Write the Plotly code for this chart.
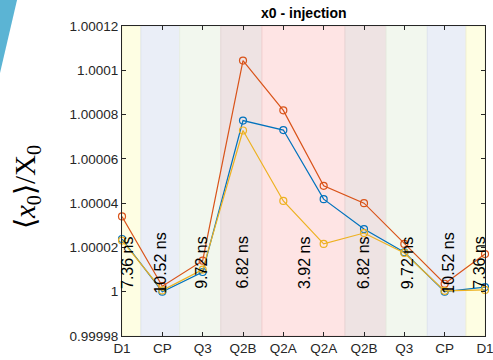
import plotly.graph_objects as go

# Lattice elements along the injection line (first and last are the D1 dipoles)
elements = ["D1", "CP", "Q3", "Q2B", "Q2A", "Q2A", "Q2B", "Q3", "CP", "D1"]
positions = list(range(1, len(elements) + 1))

# Normalised mean horizontal position <x0>/X0 at each element, three cases
series_blue = [1.0000238, 1.0000000, 1.0000089, 1.0000773, 1.0000730,
               1.0000418, 1.0000283, 1.0000178, 1.0000000, 1.0000021]
series_orange = [1.0000340, 1.0000025, 1.0000140, 1.0001044, 1.0000819,
                 1.0000478, 1.0000400, 1.0000216, 1.0000036, 1.0000170]
series_yellow = [1.0000231, 1.0000006, 1.0000100, 1.0000728, 1.0000410,
                 1.0000216, 1.0000265, 1.0000175, 1.0000004, 1.0000008]

# Transit times between elements
gap_labels = ["7.36 ns", "10.52 ns", "9.72 ns", "6.82 ns", "3.92 ns",
              "6.82 ns", "9.72 ns", "10.52 ns", "7.36 ns"]
gap_label_x = [1.15, 1.96, 2.98, 3.99, 5.54, 7.0, 8.10, 9.10, 9.87]
gap_label_y = 1.0000130

y_ticks = [0.99998, 1.0, 1.00002, 1.00004, 1.00006, 1.00008, 1.0001, 1.00012]
y_ticktext = ["0.99998", "1", "1.00002", "1.00004", "1.00006", "1.00008",
              "1.0001", "1.00012"]

# Shaded regions for each element type: (start, end, fill colour)
band_edges = [1.0, 1.47, 2.43, 3.45, 4.47, 6.53, 7.55, 8.57, 9.53, 10.0]
band_colors = ["#FEFEE3", "#EAEEF7", "#F2F7EE", "#EEE3E3", "#FEE4E4",
               "#EEE3E3", "#F2F7EE", "#EAEEF7", "#FEFEE3"]
band_line = ["#F2F2D2", "#E0E4EF", "#E8EFE3", "#E6D6D6", "#F4CFCF",
             "#E6D6D6", "#E8EFE3", "#E0E4EF", "#F2F2D2"]

W, H = 493, 360
M_L, M_R, M_T, M_B = 122, 8, 26, 24
PW, PH = W - M_L - M_R, H - M_T - M_B


def px(xp, yp):
    """Convert a page pixel position to paper coordinates."""
    return (xp - M_L) / PW, (H - M_B - yp) / PH


fig = go.Figure()

shapes = []
for i, col in enumerate(band_colors):
    shapes.append(dict(type="rect", xref="x", yref="paper",
                       x0=band_edges[i], x1=band_edges[i + 1], y0=0, y1=1,
                       fillcolor=col, line=dict(width=1, color=band_line[i]),
                       layer="below"))

# Decorative wedge in the upper-left corner
a = px(-5, -5)
b = px(18.2, -5)
c = px(-5, 94.5)
shapes.append(dict(type="path", xref="paper", yref="paper",
                   path=f"M {a[0]} {a[1]} L {b[0]} {b[1]} L {c[0]} {c[1]} Z",
                   fillcolor="#5BB4D4", line=dict(width=0), layer="above"))

for name, vals, col in [("blue", series_blue, "#0072BD"),
                        ("orange", series_orange, "#D95319"),
                        ("yellow", series_yellow, "#EDB120")]:
    fig.add_trace(go.Scatter(
        x=positions, y=vals, mode="lines+markers", name=name,
        line=dict(color=col, width=1.2),
        marker=dict(symbol="circle-open", size=7, color=col,
                    line=dict(width=1.2, color=col)),
        cliponaxis=False, showlegend=False))

annotations = []
for lx, txt in zip(gap_label_x, gap_labels):
    annotations.append(dict(x=lx, y=gap_label_y, xref="x", yref="y",
                            text=txt, showarrow=False, textangle=-90,
                            font=dict(family="Liberation Sans", size=16,
                                      color="#000000"),
                            xanchor="center", yanchor="middle"))

tx, ty = px((M_L + W - M_R) / 2, 13)
annotations.append(dict(x=tx, y=ty, xref="paper", yref="paper",
                        text="<b>x0 - injection</b>", showarrow=False,
                        font=dict(family="Liberation Sans", size=14,
                                  color="#000000"),
                        xanchor="center", yanchor="middle"))

lx, ly = px(27, 187)
annotations.append(dict(x=lx, y=ly, xref="paper", yref="paper",
                        text="⟨<i>x</i><sub>0</sub>⟩/X<sub>0</sub>",
                        showarrow=False, textangle=-90,
                        font=dict(family="Liberation Serif", size=29,
                                  color="#000000"),
                        xanchor="center", yanchor="middle"))

axis_common = dict(showgrid=False, zeroline=False, showline=True,
                   linecolor="#262626", linewidth=1, mirror="ticks",
                   ticks="inside", ticklen=4, tickcolor="#262626",
                   automargin=False, ticklabeloverflow="allow",
                   tickfont=dict(family="Liberation Sans", size=13.5,
                                 color="#262626"))

fig.update_layout(
    width=W, height=H,
    margin=dict(l=M_L, r=M_R, t=M_T, b=M_B, pad=0),
    paper_bgcolor="white", plot_bgcolor="white",
    shapes=shapes, annotations=annotations,
    xaxis=dict(range=[1, 10], tickvals=positions, ticktext=elements,
               **axis_common),
    yaxis=dict(range=[0.99998, 1.00012], tickvals=y_ticks,
               ticktext=y_ticktext, **axis_common),
)

fig.write_html("out.html")
